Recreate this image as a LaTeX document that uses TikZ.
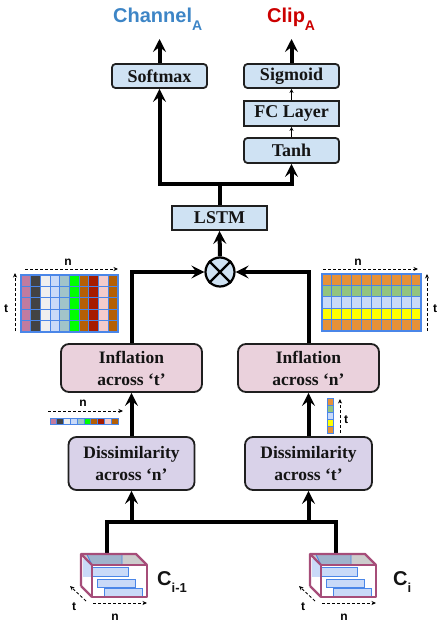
\documentclass[tikz,border=0pt]{standalone}
\usepackage{fontspec}
\setmainfont{Liberation Serif}
\setsansfont{Liberation Sans}
\usetikzlibrary{arrows.meta}
\definecolor{boxblue}{HTML}{CFE2F3}
\definecolor{boxpink}{HTML}{EAD1DC}
\definecolor{boxlav}{HTML}{D9D2E9}
\definecolor{chanblue}{HTML}{3D85C6}
\definecolor{clipred}{HTML}{CC0000}
\definecolor{gridblue}{HTML}{4A86E8}
\definecolor{cubemag}{HTML}{A64D79}
\definecolor{gA}{HTML}{C27BA0}
\definecolor{gB}{HTML}{434343}
\definecolor{gC}{HTML}{EFEFEF}
\definecolor{gD}{HTML}{C9DAF8}
\definecolor{gE}{HTML}{A2C4C9}
\definecolor{gF}{HTML}{00FF00}
\definecolor{gG}{HTML}{B45F06}
\definecolor{gH}{HTML}{A61C00}
\definecolor{gI}{HTML}{F4CCCC}
\definecolor{rA}{HTML}{E69138}
\definecolor{rB}{HTML}{93C47D}
\definecolor{rC}{HTML}{C9DAF8}
\definecolor{rD}{HTML}{FFFF00}
\definecolor{slab}{HTML}{C9DAF8}
\definecolor{slabtop}{HTML}{9FB3CC}
\tikzset{
  box/.style={draw=black!88, line width=1.8pt, fill=boxblue, minimum width=95pt,
    minimum height=24pt, inner sep=0pt, text=black!92,
    font=\fontsize{18}{20}\selectfont\bfseries},
  rbox/.style={box, rounded corners=3.5pt},
  bigbox/.style={draw=black!88, line width=1.8pt, rounded corners=8pt, align=center,
    inner sep=0pt, text=black!92, font=\fontsize{17.5}{22}\selectfont\bfseries},
  arr/.style={line width=4pt, -{Stealth[length=13pt,width=13pt,inset=5pt]}},
  ln/.style={line width=4pt},
  tarr/.style={line width=0.8pt, -{Stealth[length=4pt,width=4pt]}},
  darr/.style={line width=0.8pt, dash pattern=on 3pt off 2pt, -{Stealth[length=4.5pt,width=4pt]}},
  lab/.style={font=\sffamily\bfseries\fontsize{12}{12}\selectfont, inner sep=0pt},
  cell/.style={draw=gridblue, line width=1.1pt},
  cubeedge/.style={draw=cubemag, line width=2.4pt, line join=round},
  slabbox/.style={fill=slab, draw=gridblue, line width=0.9pt},
}
\begin{document}
\begin{tikzpicture}[x=1pt,y=-1pt]
\useasboundingbox (0,0) rectangle (445,626);

% output labels
\node[anchor=base west, inner sep=0pt, text=chanblue, font=\sffamily\bfseries] (chan) at (113,23)
  {\fontsize{20}{20}\selectfont Channel\raisebox{-8pt}{\fontsize{14}{14}\selectfont A}};
\node[anchor=base west, inner sep=0pt, text=clipred, font=\sffamily\bfseries] (clip) at (267,23)
  {\fontsize{20}{20}\selectfont Clip\raisebox{-8pt}{\fontsize{14}{14}\selectfont A}};
\coordinate (chtip) at (159.5,39);
\coordinate (cltip) at (291.5,39);

% upper boxes
\node[rbox] (sm) at (159.5,76) {Softmax};
\node[rbox] (sig) at (291.5,76) {Sigmoid};
\node[box, minimum height=25pt] (fc) at (291.5,113.5) {FC Layer};
\node[rbox, minimum height=25pt] (tanh) at (291.5,150.5) {Tanh};
\node[box] (lstm) at (219.5,218) {LSTM};
\coordinate (br) at (219.5,184);

\draw[arr] (sm.north) -- (chtip);
\draw[arr] (sig.north) -- (cltip);
\draw[tarr] (fc.north) -- (sig.south);
\draw[tarr] (tanh.north) -- (fc.south);
\draw[arr] (lstm.north) -- (br) -| (sm.south);
\draw[arr] (br) -| (tanh.south);

% multiply
\node[circle, draw=black, line width=2.2pt, fill=boxblue, minimum size=29pt, inner sep=0pt] (mul) at (220,272) {};
\draw[line width=2.2pt] (mul.north west) -- (mul.south east);
\draw[line width=2.2pt] (mul.north east) -- (mul.south west);
\draw[arr] (mul.north) -- (lstm.south);

% inflation / dissimilarity
\node[bigbox, fill=boxpink, minimum width=141pt, minimum height=48pt] (inft) at (131.5,368) {Inflation\\across ‘t’};
\node[bigbox, fill=boxpink, minimum width=141pt, minimum height=48pt] (infn) at (308.5,368) {Inflation\\across ‘n’};
\node[bigbox, fill=boxlav, minimum width=126pt, minimum height=53pt] (dn) at (131.5,463.5) {Dissimilarity\\across ‘n’};
\node[bigbox, fill=boxlav, minimum width=127pt, minimum height=53pt] (dt) at (308.5,463.5) {Dissimilarity\\across ‘t’};

\draw[arr] (inft.north) |- (mul.west);
\draw[arr] (infn.north) |- (mul.east);
\draw[arr] (dn.north) -- (inft.south);
\draw[arr] (dt.north) -- (infn.south);

\coordinate (j1) at (131.5,522);
\coordinate (j2) at (308.5,522);
\coordinate (c1) at (107,554);
\coordinate (c2) at (336,554);
\draw[ln] (c1) |- (j1) -- (j2) -| (c2);
\draw[arr] (j1) -- (dn.south);
\draw[arr] (j2) -- (dt.south);

% left grid
\foreach \c [count=\i from 0] in {gA,gB,gC,gD,gE,gF,gG,gH,gI,gG}{
  \foreach \r in {0,...,4}{
    \path[cell, fill=\c] (21+\i*9.7,275+\r*11.4) rectangle ++(9.7,11.4);
  }
  \path[cell, line width=0.9pt, fill=\c] (50+\i*6.8,418) rectangle ++(6.8,6);
}
\coordinate (lgn1) at (25,269); \coordinate (lgn2) at (118,269);
\draw[darr] (lgn1) -- (lgn2);
\node[lab] (lgnl) at (68,262) {n};
\coordinate (lgt1) at (15,331); \coordinate (lgt2) at (15,273);
\draw[darr] (lgt1) -- (lgt2);
\node[lab] (lgtl) at (6,309) {t};
\coordinate (lbn1) at (48,411); \coordinate (lbn2) at (123,411);
\draw[darr] (lbn1) -- (lbn2);
\node[lab] (lbnl) at (83,403) {n};

% right grid
\foreach \c [count=\r from 0] in {rA,rB,rC,rD,rA}{
  \foreach \i in {0,...,9}{
    \path[cell, fill=\c] (322+\i*9.9,274+\r*11.4) rectangle ++(9.9,11.4);
  }
  \path[cell, line width=0.9pt, fill=\c] (327,398+\r*7) rectangle ++(6,7);
}
\coordinate (rgn1) at (323,269); \coordinate (rgn2) at (418,269);
\draw[darr] (rgn1) -- (rgn2);
\node[lab] (rgnl) at (358,262) {n};
\coordinate (rgt1) at (427,331); \coordinate (rgt2) at (427,274);
\draw[darr] (rgt1) -- (rgt2);
\node[lab] (rgtl) at (435,309) {t};
\coordinate (rbt1) at (340,433); \coordinate (rbt2) at (340,399);
\draw[darr] (rbt1) -- (rbt2);
\node[lab] (rbtl) at (346,420) {t};

% cubes
\foreach \dx/\nm in {0/A,229/B}{
\begin{scope}[xshift=\dx pt]
  \fill[white] (81,554) -- (92,565) -- (92,597) -- (81,586) -- cycle;
  \fill[slab] (83,559) rectangle (92,577);
  \fill[black!20] (81,554) -- (136,554) -- (147,565) -- (92,565) -- cycle;
  \path[fill=slabtop, draw=gridblue, line width=0.9pt] (87,554.5) -- (122,554.5) -- (122,565) -- (92,565) -- cycle;
  \fill[white] (92,565) rectangle (147,597);
  \path[slabbox] (91,567) rectangle (128,576);
  \path[slabbox] (97,579) rectangle (135,587);
  \path[slabbox] (104,588) rectangle (142,596);
  \draw[cubeedge] (92,565) rectangle (147,597);
  \draw[cubeedge] (81,586) -- (81,554) -- (136,554) -- (147,565);
  \draw[cubeedge] (81,554) -- (92,565);
  \draw[cubeedge] (81,586) -- (92,597);
  \draw[darr] (86,601) -- (70,586);
  \draw[darr] (93,603) -- (147,603);
  \node[lab] (ct\nm) at (74,607) {t};
  \node[lab] (cn\nm) at (115,617) {n};
\end{scope}
}
\node[anchor=base west, inner sep=0pt, font=\sffamily\bfseries, text=black!92] (cim1) at (157,585)
  {\fontsize{20}{20}\selectfont C\raisebox{-7pt}{\fontsize{13}{13}\selectfont i-1}};
\node[anchor=base west, inner sep=0pt, font=\sffamily\bfseries, text=black!92] (ci) at (393,585)
  {\fontsize{20}{20}\selectfont C\raisebox{-7pt}{\fontsize{13}{13}\selectfont i}};
\end{tikzpicture}
\end{document}
